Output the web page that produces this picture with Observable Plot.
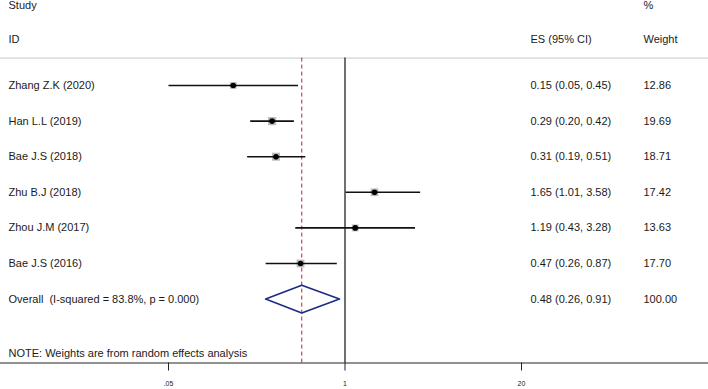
<!DOCTYPE html>
<html>
<head>
<meta charset="utf-8">
<script src="https://cdn.jsdelivr.net/npm/d3@7"></script>
<script src="https://cdn.jsdelivr.net/npm/@observablehq/plot@0.6"></script>
<style>
  html, body { margin: 0; padding: 0; background: #fff; }
  svg { display: block; }
</style>
</head>
<body>
<div id="chart"></div>
<script>
const studies = ["Zhang Z.K (2020)", "Han L.L (2019)", "Bae J.S (2018)", "Zhu B.J (2018)", "Zhou J.M (2017)", "Bae J.S (2016)"];
const es = [0.15, 0.29, 0.31, 1.65, 1.19, 0.47];
const lo = [0.05, 0.20, 0.19, 1.01, 0.43, 0.26];
const hi = [0.45, 0.42, 0.51, 3.58, 3.28, 0.87];
const weights = [12.86, 19.69, 18.71, 17.42, 13.63, 17.70];
const overall = {label: "Overall  (I-squared = 83.8%, p = 0.000)", es: 0.48, lo: 0.26, hi: 0.91, weight: 100.00};
const note = "NOTE: Weights are from random effects analysis";
const tickValues = [0.05, 1, 20];
const tickLabels = [".05", "1", "20"];

const rows = studies.map((s, i) => ({study: s, es: es[i], lo: lo[i], hi: hi[i], w: weights[i], row: i,
  esText: `${es[i].toFixed(2)} (${lo[i].toFixed(2)}, ${hi[i].toFixed(2)})`, wText: weights[i].toFixed(2)}));
const oRow = studies.length;

// layout rows (in row units)
const rStudy = -2.24, rID = -1.28, rSep = -0.77, rNote = 7.53, rAxis = 7.795, rTickEnd = 8.02, rTickLab = 8.37;
const dh = 0.39;
const diamond = [
  {x: overall.lo, y: oRow}, {x: overall.es, y: oRow - dh}, {x: overall.hi, y: oRow},
  {x: overall.es, y: oRow + dh}, {x: overall.lo, y: oRow}
];

const font = "Liberation Sans, Arial, sans-serif";
const fs = 11;
const ink = "#1a1a1a";

const plot = Plot.plot({
  width: 708, height: 389,
  margin: 0,
  style: {fontFamily: font, background: "#fff"},
  x: {type: "log", domain: [0.05, 20], range: [168, 521], axis: null},
  y: {type: "linear", domain: [0, 5], range: [85, 263], axis: null},
  r: {type: "identity"},
  marks: [
    // separator
    Plot.ruleY([rSep], {stroke: "#c8c8c8", strokeWidth: 1}),
    // axis line
    Plot.ruleY([rAxis], {stroke: "#222", strokeWidth: 1}),
    // ticks
    Plot.ruleX(tickValues, {x: d => d, y1: rAxis, y2: rTickEnd, stroke: "#222"}),
    Plot.text(tickValues, {x: d => d, y: rTickLab, text: (d, i) => tickLabels[i], fontSize: 7, fill: "#222"}),
    // null line
    Plot.ruleX([1], {y1: rSep, y2: rAxis, stroke: "#111", strokeWidth: 1.2}),
    // overall dashed line
    Plot.ruleX([overall.es], {y1: rSep, y2: rAxis, stroke: "#b0282e", strokeWidth: 1, strokeDasharray: "4,3"}),
    // weight squares
    Plot.dot(rows, {x: "es", y: "row", symbol: "square", r: d => Math.sqrt(d.w) * 1.05, fill: "#bdbdbd", stroke: "none"}),
    // CI lines
    Plot.link(rows, {x1: "lo", x2: "hi", y1: "row", y2: "row", stroke: "#111", strokeWidth: 1.6}),
    // point estimates
    Plot.dot(rows, {x: "es", y: "row", r: 2.8, fill: "#000", stroke: "none"}),
    // diamond
    Plot.line(diamond, {x: "x", y: "y", stroke: "#1c2a85", strokeWidth: 1.6, curve: "linear"}),
    // headers
    Plot.text(["Study"], {frameAnchor: "left", dx: 8, y: rStudy, text: d => d, fontSize: fs, textAnchor: "start", fill: ink}),
    Plot.text(["ID"], {frameAnchor: "left", dx: 8, y: rID, text: d => d, fontSize: fs, textAnchor: "start", fill: ink}),
    Plot.text(["ES (95% CI)"], {frameAnchor: "left", dx: 530, y: rID, text: d => d, fontSize: fs, textAnchor: "start", fill: ink}),
    Plot.text(["%"], {frameAnchor: "left", dx: 643, y: rStudy, text: d => d, fontSize: fs, textAnchor: "start", fill: ink}),
    Plot.text(["Weight"], {frameAnchor: "left", dx: 643, y: rID, text: d => d, fontSize: fs, textAnchor: "start", fill: ink}),
    // study labels
    Plot.text(rows, {frameAnchor: "left", dx: 8, y: "row", text: "study", fontSize: fs, textAnchor: "start", fill: ink}),
    Plot.text(rows, {frameAnchor: "left", dx: 530, y: "row", text: "esText", fontSize: fs, textAnchor: "start", fill: ink}),
    Plot.text(rows, {frameAnchor: "left", dx: 643, y: "row", text: "wText", fontSize: fs, textAnchor: "start", fill: ink}),
    // overall row
    Plot.text([overall], {frameAnchor: "left", dx: 8, y: oRow, text: d => d.label, fontSize: fs, textAnchor: "start", fill: ink}),
    Plot.text([overall], {frameAnchor: "left", dx: 530, y: oRow, text: d => `${d.es.toFixed(2)} (${d.lo.toFixed(2)}, ${d.hi.toFixed(2)})`, fontSize: fs, textAnchor: "start", fill: ink}),
    Plot.text([overall], {frameAnchor: "left", dx: 643, y: oRow, text: d => d.weight.toFixed(2), fontSize: fs, textAnchor: "start", fill: ink}),
    // note
    Plot.text([note], {frameAnchor: "left", dx: 8, y: rNote, text: d => d, fontSize: fs, textAnchor: "start", fill: ink})
  ]
});
document.getElementById("chart").appendChild(plot);
</script>
</body>
</html>
